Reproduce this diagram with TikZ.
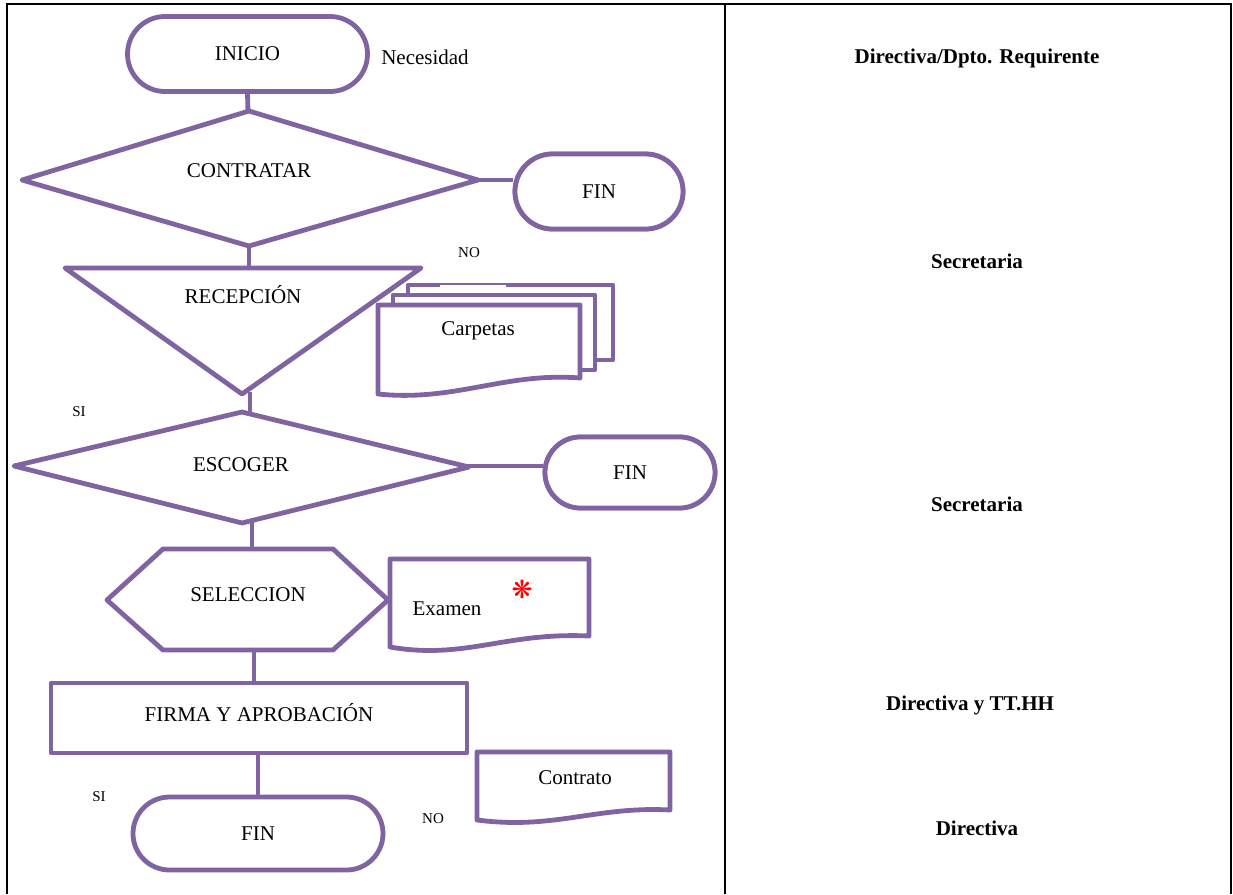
\documentclass[tikz,border=0pt]{standalone}
\usepackage{fontspec}
\setmainfont{Liberation Serif}
\newfontfamily\symfont{DejaVu Sans}
\usetikzlibrary{shapes.misc}
\definecolor{flowpurple}{HTML}{8064A2}
\begin{document}
\begin{tikzpicture}[x=1pt,y=-1pt,
  fshape/.style={draw=flowpurple,line width=4.8pt,line join=round,fill=white},
  conn/.style={draw=flowpurple,line width=4.8pt},
  term/.style={fshape,rounded rectangle,inner sep=0pt,font=\fontsize{21}{24}\selectfont},
  txt/.style={font=\fontsize{21}{24}\selectfont,inner sep=0pt},
  tag/.style={font=\fontsize{15}{17}\selectfont,inner sep=0pt},
  lane/.style={font=\bfseries\fontsize{21}{24}\selectfont,inner sep=0pt},
  tbl/.style={draw=black,line width=2.2pt}]
\useasboundingbox (0,0) rectangle (1233,894);

% ---- table frame ----
\draw[tbl] (7,894) -- (7,4) -- (1231,4) -- (1231,894);
\draw[tbl] (725,4) -- (725,894);

% ---- anchor points of the drawn shapes ----
\coordinate (ctop) at (248,112);
\coordinate (cright) at (478,180);
\coordinate (cbot) at (249,245);
\coordinate (rtop) at (249,268);
\coordinate (rbot) at (250,392);
\coordinate (etop) at (250,414);
\coordinate (eright) at (468,466);
\coordinate (ebot) at (252,521);
\coordinate (htop) at (252,549);
\coordinate (hbot) at (254,650);

% ---- terminals and process box ----
\node[term,minimum width=240pt,minimum height=75pt] (inicio) at (247.5,54) {INICIO};
\node[term,minimum width=168pt,minimum height=75pt] (fin1) at (599,191.5) {FIN};
\node[term,minimum width=170pt,minimum height=71pt] (fin2) at (630,472.5) {FIN};
\node[term,minimum width=250pt,minimum height=73pt] (fin3) at (258,833.5) {FIN};
\node[fshape,rectangle,minimum width=416pt,minimum height=70pt] (firma) at (259,718) {};

% ---- connectors ----
\draw[conn] (inicio.south) -- (ctop);
\draw[conn] (cright) -- (cright -| fin1.west);
\draw[conn] (cbot) -- (rtop);
\draw[conn] (rbot) -- (etop);
\draw[conn] (eright) -- (eright -| fin2.west);
\draw[conn] (ebot) -- (htop);
\draw[conn] (hbot) -- (hbot |- firma.north);
\draw[conn] (firma.south -| fin3.north) -- (fin3.north);

% ---- decision, merge and preparation shapes ----
\draw[fshape] (249,111) -- (478,180) -- (249,246) -- (22,180) -- cycle;
\draw[fshape] (65,268) -- (421,268) -- (242,394) -- cycle;
\draw[fshape] (242,412) -- (469,467) -- (242,523) -- (14,466) -- cycle;
\draw[fshape] (107,600) -- (163,549) -- (333,549) -- (388,600) -- (333,650) -- (163,650) -- cycle;

% redraw terminals on top of their joins
\node[term,minimum width=168pt,minimum height=75pt] at (fin1) {FIN};
\node[term,minimum width=170pt,minimum height=71pt] at (fin2) {FIN};

% ---- multi-document: Carpetas ----
\draw[fshape] (408,360) -- (408,285) -- (613,285) -- (613,360) -- cycle;
\draw[white,line width=3pt] (440,286.8) -- (506,286.8);
\draw[fshape] (393,370) -- (393,295) -- (595,295) -- (595,370) -- cycle;
\draw[fshape] (378,305) -- (580,305) -- (580,378)
  .. controls (505,372) and (455,402) .. (378,394) -- cycle;

% ---- documents: Examen and Contrato ----
\draw[fshape] (390,559) -- (589,559) -- (589,636)
  .. controls (505,632) and (465,660) .. (390,647) -- cycle;
\draw[fshape] (477,752) -- (670,752) -- (670,810)
  .. controls (595,806) and (555,830) .. (477,820) -- cycle;

% ---- labels ----
\node[txt] (ncs) at (425,57) {Necesidad};
\node[txt] (contratar) at (249,171) {CONTRATAR};
\node[txt] (recepcion) at (243,295) {RECEPCIÓN};
\node[txt] (carpetas) at (478,331) {Carpetas};
\node[txt] (escoger) at (241,465) {ESCOGER};
\node[txt] (seleccion) at (248,595) {SELECCION};
\node[txt] (examen) at (447,609) {Examen};
\node[font=\symfont\fontsize{25}{27}\selectfont,text=red,inner sep=0pt] (mark) at (522,589) {❋};
\node[txt] (firmatxt) at (259,713) {FIRMA Y APROBACIÓN};
\node[txt] (contrato) at (575,778) {Contrato};

\node[tag] (no1) at (469,253) {NO};
\node[tag] (si1) at (79,412) {SI};
\node[tag] (si2) at (99,797) {SI};
\node[tag] (no2) at (433,819) {NO};

% ---- responsible areas ----
\node[lane] (l1) at (977,58) {Directiva/Dpto. Requirente};
\node[lane] (l2) at (977,261) {Secretaria};
\node[lane] (l3) at (977,504) {Secretaria};
\node[lane] (l4) at (970,705) {Directiva y TT.HH};
\node[lane] (l5) at (977,828) {Directiva};
\end{tikzpicture}
\end{document}
